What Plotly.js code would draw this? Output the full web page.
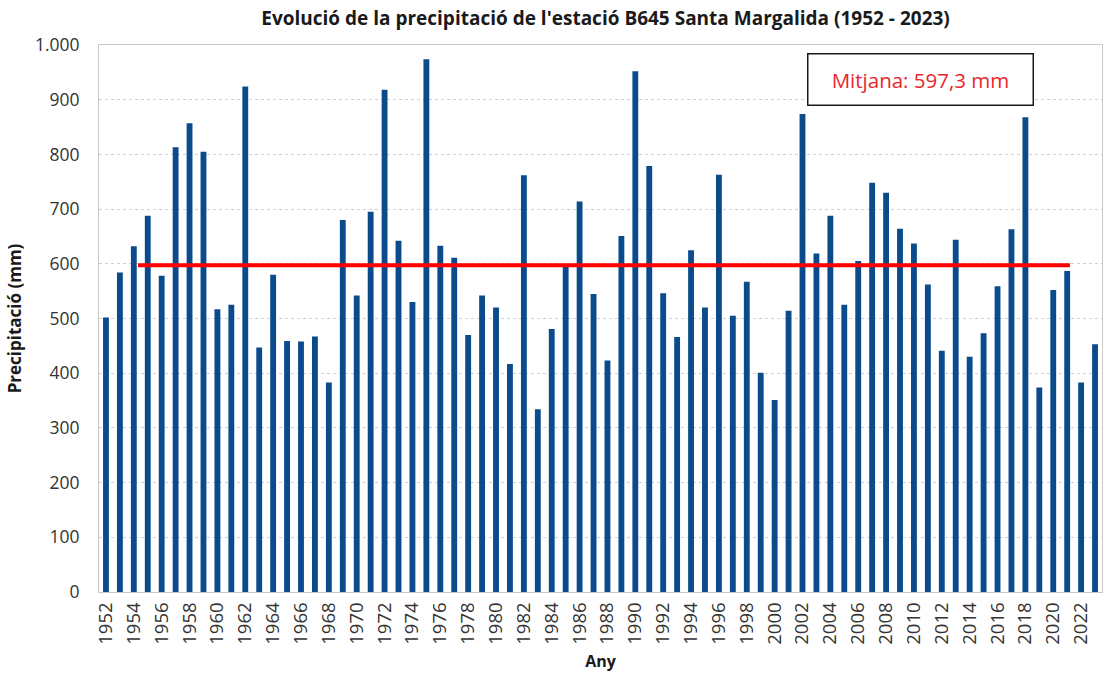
<!DOCTYPE html>
<html>
<head>
<meta charset="utf-8">
<script src="https://cdn.plot.ly/plotly-3.0.1.min.js"></script>
<style>
  html, body { margin: 0; padding: 0; background: #fff; }
  #chart { width: 1105px; height: 677px; }
</style>
</head>
<body>
<div id="chart"></div>
<script>
const years = [];
for (let y = 1952; y <= 2023; y++) years.push(y);

const precipitation = [
  502, 584, 632, 688, 578, 813, 857, 805, 517, 525,
  924, 447, 580, 459, 458, 467, 383, 680, 542, 695,
  918, 642, 530, 974, 633, 611, 470, 542, 520, 417,
  762, 334, 481, 595, 714, 545, 423, 651, 952, 779,
  546, 466, 625, 520, 763, 505, 567, 401, 351, 514,
  874, 619, 688, 525, 605, 748, 730, 664, 637, 562,
  441, 644, 430, 473, 559, 663, 868, 374, 552, 587,
  383, 453
];

const meanValue = 597.3;
const meanLabel = 'Mitjana: 597,3 mm';

const bars = {
  type: 'bar',
  x: years,
  y: precipitation,
  marker: { color: '#0b4a8b' },
  hoverinfo: 'x+y'
};

// red mean line, drawn over the bars
const meanLine = {
  type: 'scatter',
  mode: 'lines',
  x: [1954.3, 2021.2],
  y: [meanValue, meanValue],
  line: { color: '#ff0000', width: 4 },
  hoverinfo: 'skip'
};

const layout = {
  width: 1105,
  height: 677,
  margin: { l: 99, r: 3, t: 45, b: 85 },
  paper_bgcolor: '#ffffff',
  plot_bgcolor: '#ffffff',
  separators: ',.',
  showlegend: false,
  bargap: 0.58,
  font: { family: 'Open Sans, Noto Sans, sans-serif', color: '#262626', size: 14 },
  title: {
    text: "<b>Evolució de la precipitació de l'estació B645 Santa Margalida (1952 - 2023)</b>",
    font: { size: 19, color: '#1a1a1a' },
    x: 0.548, xanchor: 'center', y: 0.973, yanchor: 'middle'
  },
  xaxis: {
    range: [1951.5, 2023.5],
    tick0: 1952,
    dtick: 2,
    tickformat: 'd',
    tickangle: -90,
    tickfont: { size: 18.5, color: '#333333' },
    showgrid: false,
    showline: true,
    mirror: true,
    linecolor: '#c8c8c8',
    linewidth: 1,
    ticks: '',
    ticklabelstandoff: 2,
    automargin: false,
    title: { text: '<b>Any</b>', font: { size: 16, color: '#1a1a1a' }, standoff: 12 }
  },
  yaxis: {
    range: [0, 1000],
    dtick: 100,
    tickformat: ',d',
    tickfont: { size: 17.5, color: '#333333' },
    showgrid: true,
    gridcolor: '#d0d0d0',
    griddash: 'dot',
    gridwidth: 1,
    showline: true,
    mirror: true,
    linecolor: '#c8c8c8',
    zeroline: false,
    ticks: '',
    ticklabelstandoff: 15,
    automargin: false,
    title: { text: '<b>Precipitació (mm)</b>', font: { size: 17, color: '#1a1a1a' }, standoff: 8 }
  },
  annotations: [{
    xref: 'paper', yref: 'paper',
    x: 0.819, y: 0.937, xanchor: 'center', yanchor: 'middle',
    text: meanLabel,
    showarrow: false,
    font: { size: 20.5, color: '#e8262d' },
    bgcolor: '#ffffff',
    bordercolor: '#1a1a1a',
    borderwidth: 1.5,
    width: 222,
    height: 48
  }]
};

Plotly.newPlot('chart', [bars, meanLine], layout, { displayModeBar: false, staticPlot: true });
</script>
</body>
</html>
